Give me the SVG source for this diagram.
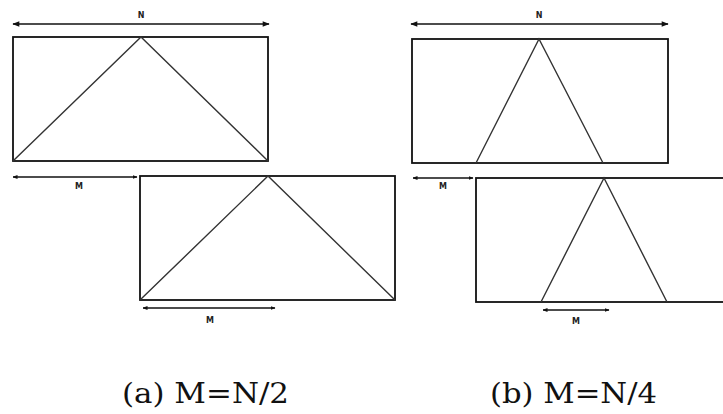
<svg xmlns="http://www.w3.org/2000/svg" width="723" height="414" viewBox="0 0 723 414">
<defs>
<marker id="ah" viewBox="0 0 10 10" refX="9" refY="5" markerWidth="8" markerHeight="7" orient="auto-start-reverse" markerUnits="userSpaceOnUse">
<path d="M0,1 L10,5 L0,9 z" fill="#111"/>
</marker>
<marker id="ahs" viewBox="0 0 10 10" refX="9" refY="5" markerWidth="5" markerHeight="5" orient="auto-start-reverse" markerUnits="userSpaceOnUse">
<path d="M0,1 L10,5 L0,9 z" fill="#111"/>
</marker>
<style>
.box{fill:#fff;stroke:#111;stroke-width:1.8}
.tri{fill:none;stroke:#333;stroke-width:1.4}
.dim{stroke:#111;stroke-width:1.7;fill:none}
.lbl{font-family:"DejaVu Sans",sans-serif;font-weight:bold;font-size:8px;fill:#222;text-anchor:middle}
.cap{font-family:"DejaVu Serif",serif;font-size:28px;fill:#111}
</style>
</defs>
<g id="connectors">
<line class="dim" x1="13" y1="24" x2="269" y2="24" marker-start="url(#ah)" marker-end="url(#ah)"/>
<line class="dim" x1="13" y1="177" x2="137" y2="177" marker-start="url(#ahs)" marker-end="url(#ahs)"/>
<line class="dim" x1="143" y1="308" x2="275" y2="308" marker-start="url(#ahs)" marker-end="url(#ahs)"/>
<line class="dim" x1="411" y1="24" x2="668" y2="24" marker-start="url(#ah)" marker-end="url(#ah)"/>
<line class="dim" x1="413" y1="178" x2="473" y2="178" stroke-width="1.2" marker-start="url(#ahs)" marker-end="url(#ahs)"/>
<line class="dim" x1="543" y1="310" x2="609" y2="310" marker-start="url(#ahs)" marker-end="url(#ahs)"/>
</g>
<g id="a-top">
<rect class="box" x="13" y="37" width="255" height="124"/>
<polyline class="tri" points="13,161 141,37 268,161"/>
</g>
<g id="a-bottom">
<rect class="box" x="140" y="176" width="255" height="124"/>
<polyline class="tri" points="140,300 268,176 395,300"/>
</g>
<g id="b-top">
<rect class="box" x="412" y="39" width="256" height="124"/>
<polyline class="tri" points="476,163 539,39 603,163"/>
</g>
<g id="b-bottom">
<rect class="box" x="476" y="178" width="260" height="124"/>
<polyline class="tri" points="541,302 604,178 667,302"/>
</g>
<g id="labels">
<text class="lbl" x="141" y="18">N</text>
<text class="lbl" x="79" y="189">M</text>
<text class="lbl" x="210" y="323">M</text>
<text class="lbl" x="539" y="18">N</text>
<text class="lbl" x="443" y="189">M</text>
<text class="lbl" x="576" y="324">M</text>
<text class="cap" x="122" y="403" textLength="167" lengthAdjust="spacingAndGlyphs">(a) M=N/2</text>
<text class="cap" x="490" y="403" textLength="167" lengthAdjust="spacingAndGlyphs">(b) M=N/4</text>
</g>
</svg>
